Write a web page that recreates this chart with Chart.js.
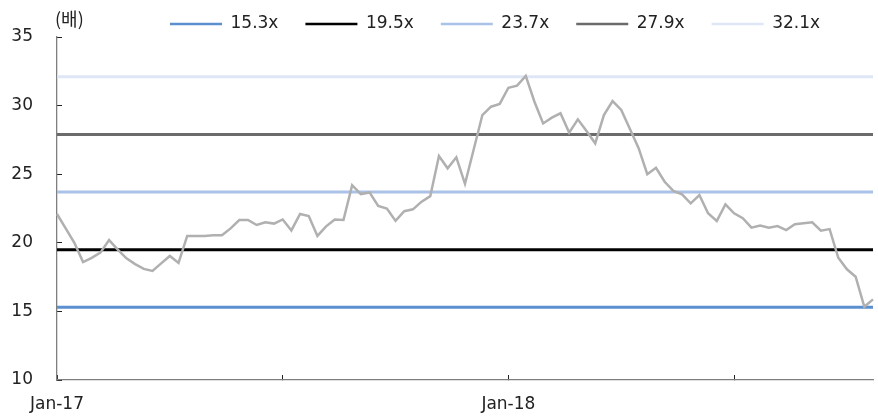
<!DOCTYPE html>
<html>
<head>
<meta charset="utf-8">
<script src="https://cdn.jsdelivr.net/npm/chart.js@4"></script>
<style>
  html, body { margin: 0; padding: 0; background: #fff; }
</style>
</head>
<body>
<canvas id="chart" width="878" height="416"></canvas>
<script>
// weekly 12M fwd PER (배), first week of Jan-17 to mid Oct-18
const per = [
  22.1, 21.05, 20.0, 18.6, 18.9, 19.28, 20.2, 19.5, 18.87, 18.45,
  18.1, 17.95, 18.5, 19.04, 18.53, 20.5, 20.5, 20.5, 20.55, 20.55,
  21.05, 21.66, 21.66, 21.3, 21.5, 21.4, 21.7, 20.9, 22.1, 21.95,
  20.5, 21.2, 21.7, 21.66, 24.2, 23.55, 23.67, 22.68, 22.5, 21.6,
  22.3, 22.44, 23.0, 23.4, 26.33, 25.43, 26.23, 24.3, 26.8, 29.31,
  29.92, 30.12, 31.3, 31.45, 32.16, 30.28, 28.7, 29.12, 29.44, 28.03,
  29.0, 28.15, 27.25, 29.31, 30.33, 29.68, 28.3, 26.9, 25.0, 25.47,
  24.45, 23.78, 23.53, 22.88, 23.48, 22.15, 21.59, 22.8, 22.15, 21.79,
  21.1, 21.25, 21.1, 21.22, 20.93, 21.35, 21.42, 21.49, 20.88, 21.0,
  18.91, 18.07, 17.53, 15.34, 15.88
];

// PER band lines
const bandValues = [15.3, 19.5, 23.7, 27.9, 32.1];
const bandLabels = ['15.3x', '19.5x', '23.7x', '27.9x', '32.1x'];
const bandColors = ['#5b8fd0', '#000000', '#abc2e8', '#6b6b6b', '#dfe7f6'];

// x axis: tick every half year, label only Jan
const xTickIndex = [0, 26, 52, 78];
const xTickLabels = ['Jan-17', '', 'Jan-18', ''];

// week labels (category axis)
const weeks = [];
const start = new Date(2017, 0, 2);
for (let i = 0; i < per.length; i++) {
  const d = new Date(start.getTime() + i * 7 * 86400000);
  weeks.push(d.toISOString().slice(0, 10));
}

const FONT = 'DejaVu Sans';

const datasets = [{
  label: 'PER',
  data: per,
  borderColor: '#b0b0b0',
  borderWidth: 2.5,
  pointRadius: 0,
  tension: 0
}];
bandValues.forEach((v, i) => {
  datasets.push({
    label: bandLabels[i],
    data: [{ x: weeks[0], y: v }, { x: weeks[weeks.length - 1], y: v }],
    borderColor: bandColors[i],
    backgroundColor: bandColors[i],
    borderWidth: 3,
    pointRadius: 0,
    tension: 0
  });
});

// unit label "(배)" over the y axis
const unitLabel = {
  id: 'unitLabel',
  afterDraw(chart) {
    const ctx = chart.ctx;
    ctx.save();
    ctx.font = '18px "Noto Sans CJK KR"';
    ctx.fillStyle = '#222';
    ctx.textBaseline = 'middle';
    ctx.fillText('(배)', chart.chartArea.left - 2, 19);
    ctx.restore();
  }
};

// put the legend where the original has it
const legendPlace = {
  id: 'legendPlace',
  afterLayout(chart) {
    const lg = chart.legend;
    const pad = lg.options.labels.padding;
    lg.left = 170 - pad;
    lg.top = 24 - pad - 8.5;
  }
};

new Chart(document.getElementById('chart'), {
  type: 'line',
  data: { labels: weeks, datasets: datasets },
  plugins: [unitLabel, legendPlace],
  options: {
    responsive: false,
    animation: false,
    layout: { padding: { left: 0, right: 5, top: 0, bottom: 0 } },
    plugins: {
      tooltip: { enabled: false },
      legend: {
        position: 'top',
        align: 'start',
        maxHeight: 37,
        labels: {
          boxWidth: 52,
          boxHeight: 2.5,
          padding: 27,
          color: '#222',
          font: { family: FONT, size: 17 },
          filter: item => item.datasetIndex > 0,
          generateLabels(chart) {
            return Chart.defaults.plugins.legend.labels.generateLabels(chart).map(it => {
              it.lineWidth = 0;
              it.strokeStyle = 'rgba(0,0,0,0)';
              return it;
            });
          }
        }
      }
    },
    scales: {
      x: {
        type: 'category',
        offset: false,
        afterBuildTicks(scale) {
          scale.ticks = xTickIndex.map(v => ({ value: v }));
        },
        afterFit(scale) { scale.height = 36; },
        grid: { drawOnChartArea: false, tickLength: -5, tickColor: '#222' },
        border: { color: '#7f7f7f', width: 1.3 },
        ticks: {
          autoSkip: false,
          maxRotation: 0,
          padding: 19,
          color: '#222',
          font: { family: FONT, size: 17 },
          callback: (val, i) => xTickLabels[i]
        }
      },
      y: {
        min: 10,
        max: 35,
        afterFit(scale) {
          scale.width = 57;
          scale.paddingTop = 10;
          scale.paddingBottom = 10;
        },
        grid: { drawOnChartArea: false, tickLength: -5, tickColor: '#222' },
        border: { color: '#7f7f7f', width: 1.3 },
        ticks: {
          stepSize: 5,
          padding: 29,
          color: '#222',
          font: { family: FONT, size: 17 }
        }
      }
    }
  }
});
</script>
</body>
</html>
